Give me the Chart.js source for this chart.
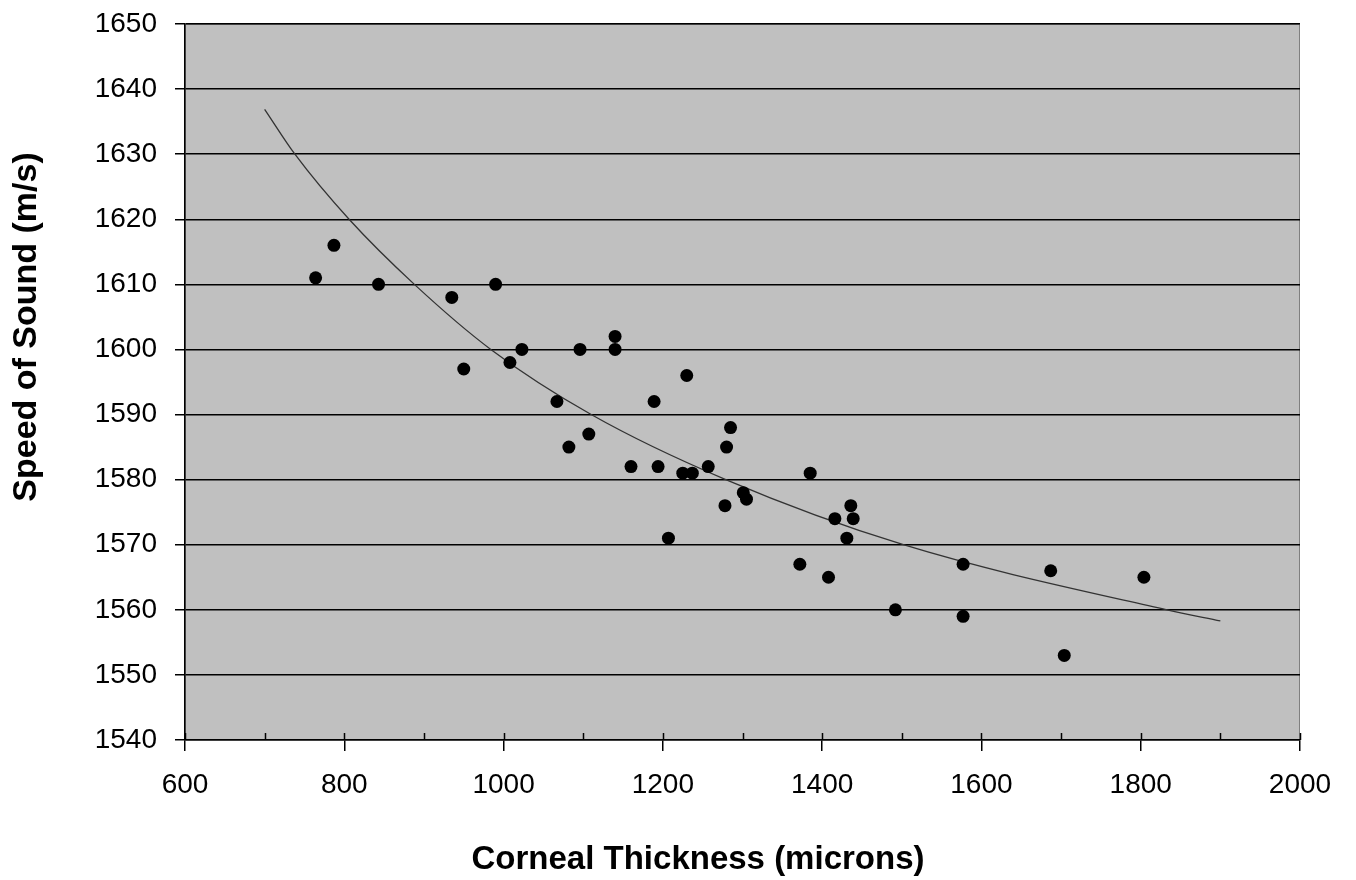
<!DOCTYPE html>
<html>
<head>
<meta charset="utf-8">
<script src="https://cdn.jsdelivr.net/npm/chart.js@4"></script>
<style>
  html, body { margin: 0; padding: 0; background: #fff; }
  #wrap { width: 1356px; height: 880px; }
</style>
</head>
<body>
<div id="wrap"><canvas id="chart" width="1356" height="880"></canvas></div>
<script>
// valores
const thickness = [764, 787, 843, 935, 990, 950, 1008, 1023, 1096, 1140, 1140, 1230, 1067, 1189, 1107, 1082, 1285, 1280, 1160, 1194,
  1257, 1225, 1237, 1385, 1301, 1305, 1278, 1207, 1436, 1416, 1439, 1431, 1372, 1408, 1492, 1577, 1577, 1687, 1704, 1804];
const speed = [1611, 1616, 1610, 1608, 1610, 1597, 1598, 1600, 1600, 1602, 1600, 1596, 1592, 1592, 1587, 1585, 1588, 1585, 1582, 1582,
  1582, 1581, 1581, 1581, 1578, 1577, 1576, 1571, 1576, 1574, 1574, 1571, 1567, 1565, 1560, 1567, 1559, 1566, 1553, 1565];

// linha de tendência
const trendThickness = [700, 738, 806, 888, 984, 1110, 1279, 1502, 1833, 1900];
const trendSpeed = [1636.9, 1630, 1620, 1610, 1600, 1590, 1580, 1570, 1560, 1558.3];

const xTicks = [600, 800, 1000, 1200, 1400, 1600, 1800, 2000];
const yTicks = [1540, 1550, 1560, 1570, 1580, 1590, 1600, 1610, 1620, 1630, 1640, 1650];
const xMinorStep = 100;

const xTitle = 'Corneal Thickness (microns)';
const yTitle = 'Speed of Sound (m/s)';

const FONT = '"Liberation Sans", Arial, sans-serif';

// fundo cinza da área do gráfico
const plotBg = {
  id: 'plotBg',
  beforeDraw(chart) {
    const { ctx, chartArea: a } = chart;
    ctx.save();
    ctx.fillStyle = '#c0c0c0';
    ctx.fillRect(a.left, a.top, a.right - a.left, a.bottom - a.top);
    ctx.strokeStyle = '#808080';
    ctx.lineWidth = 1;
    ctx.strokeRect(a.left + 0.5, a.top + 0.5, a.right - a.left - 1, a.bottom - a.top - 1);
    ctx.restore();
  }
};

// marcas internas no eixo x (a cada 100)
const innerTicks = {
  id: 'innerTicks',
  afterDraw(chart) {
    const x = chart.scales.x;
    const ctx = chart.ctx;
    const bottom = chart.chartArea.bottom;
    ctx.save();
    ctx.strokeStyle = '#000';
    ctx.lineWidth = 1.5;
    for (let v = x.min; v <= x.max; v += xMinorStep) {
      const px = Math.round(x.getPixelForValue(v)) + 0.5;
      ctx.beginPath();
      ctx.moveTo(px, bottom);
      ctx.lineTo(px, bottom - 7);
      ctx.stroke();
    }
    ctx.restore();
  }
};

// títulos dos eixos
const axisTitles = {
  id: 'axisTitles',
  afterDraw(chart) {
    const ctx = chart.ctx;
    ctx.save();
    ctx.fillStyle = '#000';
    ctx.textAlign = 'center';
    ctx.textBaseline = 'middle';
    ctx.font = 'bold 33px ' + FONT;
    ctx.fillText(xTitle, 698, 860);
    ctx.translate(27, 327);
    ctx.rotate(-Math.PI / 2);
    ctx.font = 'bold 34px ' + FONT;
    ctx.fillText(yTitle, 0, 0);
    ctx.restore();
  }
};

new Chart(document.getElementById('chart'), {
  type: 'scatter',
  data: {
    datasets: [
      {
        label: 'Trend',
        data: trendThickness.map((v, i) => ({ x: v, y: trendSpeed[i] })),
        showLine: true,
        borderColor: '#333',
        borderWidth: 1.3,
        pointRadius: 0,
        cubicInterpolationMode: 'monotone',
        order: 2
      },
      {
        label: 'Measured',
        data: thickness.map((v, i) => ({ x: v, y: speed[i] })),
        backgroundColor: '#000',
        borderWidth: 0,
        pointRadius: 6.5,
        order: 1
      }
    ]
  },
  options: {
    responsive: false,
    animation: false,
    devicePixelRatio: 1,
    layout: { padding: { left: 0, top: 24, right: 56, bottom: 0 } },
    plugins: {
      legend: { display: false },
      tooltip: { enabled: false }
    },
    scales: {
      x: {
        type: 'linear',
        min: xTicks[0],
        max: xTicks[xTicks.length - 1],
        afterBuildTicks: (axis) => { axis.ticks = xTicks.map(v => ({ value: v })); },
        afterFit: (axis) => { axis.height = 140; axis.paddingLeft = 0; axis.paddingRight = 0; },
        ticks: {
          color: '#000',
          font: { family: FONT, size: 28 },
          padding: 17,
          maxRotation: 0,
          callback: (v) => String(v)
        },
        grid: {
          drawOnChartArea: false,
          drawTicks: true,
          tickLength: 11,
          color: '#000',
          lineWidth: 1.5
        },
        border: { display: true, color: '#000', width: 1.5 }
      },
      y: {
        type: 'linear',
        min: yTicks[0],
        max: yTicks[yTicks.length - 1],
        afterBuildTicks: (axis) => { axis.ticks = yTicks.map(v => ({ value: v })); },
        afterFit: (axis) => { axis.width = 185; axis.paddingTop = 0; axis.paddingBottom = 0; },
        ticks: {
          color: '#000',
          font: { family: FONT, size: 28 },
          padding: 18,
          callback: (v) => String(v)
        },
        grid: {
          drawTicks: true,
          tickLength: 10,
          color: '#000',
          lineWidth: 1.5
        },
        border: { display: true, color: '#000', width: 1.5 }
      }
    }
  },
  plugins: [plotBg, innerTicks, axisTitles]
});
</script>
</body>
</html>
